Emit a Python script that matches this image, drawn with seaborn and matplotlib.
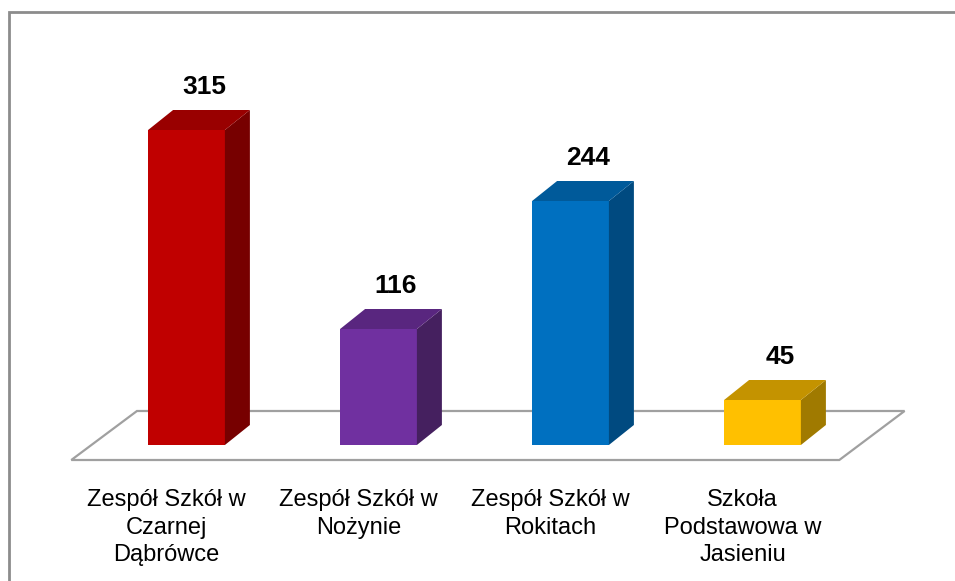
import matplotlib
matplotlib.use("Agg")
import matplotlib.pyplot as plt
import seaborn as sns
import pandas as pd
from matplotlib.patches import Polygon, Rectangle

categories = ["Zespół Szkół w\nCzarnej\nDąbrówce", "Zespół Szkół w\nNożynie",
              "Zespół Szkół w\nRokitach", "Szkoła\nPodstawowa w\nJasieniu"]
values = [315, 116, 244, 45]
front_colors = ["#C00000", "#7030A0", "#0070C0", "#FFC000"]
top_colors = ["#990000", "#59267F", "#005A9A", "#C49300"]
side_colors = ["#770000", "#45205F", "#004A80", "#A07A00"]

sns.set_theme(style="white")
plt.rcParams['font.family'] = ['Liberation Sans', 'DejaVu Sans']

fig = plt.figure(figsize=(9.55, 5.81), dpi=100)
ax = fig.add_axes([0, 0, 1, 1])
df = pd.DataFrame({"cat": categories, "val": values})
sns.barplot(data=df, x="cat", y="val", hue="cat", palette=front_colors,
            width=0.4, legend=False, ax=ax, saturation=1, zorder=3)

spacing = 192.0  # px per category
ax.set_xlim(-186.5 / spacing, (955 - 186.5) / spacing)
ax.set_ylim(-136, 445)
ax.axis("off")

ddx = 25 / spacing
ddy = 20

# floor
floor = Polygon([(-0.60, -15), (-0.258, 34), (3.74, 34), (3.40, -15)],
                closed=True, facecolor="white", edgecolor="#A0A0A0", lw=1.6, zorder=1)
ax.add_patch(floor)

for i, p in enumerate(ax.patches[:len(values)]):
    x0, w, h = p.get_x(), p.get_width(), p.get_height()
    p.set_edgecolor("none")
    side = Polygon([(x0 + w, 0), (x0 + w + ddx, ddy), (x0 + w + ddx, h + ddy), (x0 + w, h)],
                   closed=True, facecolor=side_colors[i], edgecolor="none", zorder=3)
    top = Polygon([(x0, h), (x0 + ddx, h + ddy), (x0 + w + ddx, h + ddy), (x0 + w, h)],
                  closed=True, facecolor=top_colors[i], edgecolor="none", zorder=3)
    ax.add_patch(side)
    ax.add_patch(top)
    cx = x0 + w / 2
    ax.text(cx + ddx * 0.7, h + ddy + 11, str(values[i]), ha="center", va="bottom",
            fontsize=19, fontweight="bold", color="black", zorder=5)
    ax.text(cx - 20 / spacing, -44, categories[i], ha="center", va="top",
            multialignment="center", fontsize=17, color="black", linespacing=1.33)

fig.add_artist(Rectangle((9 / 955, -0.1), 1.2, 1 - 12 / 581 + 0.1, transform=fig.transFigure,
                         fill=False, edgecolor="#8C8C8C", lw=2))

fig.savefig("out.png", dpi=100)
